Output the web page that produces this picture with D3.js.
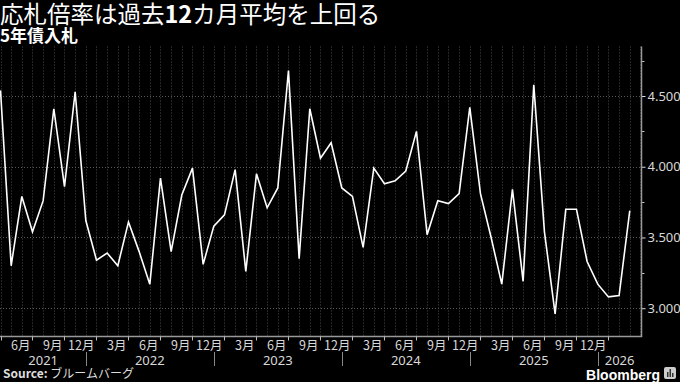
<!DOCTYPE html>
<html>
<head>
<meta charset="utf-8">
<script src="https://cdn.jsdelivr.net/npm/d3@7"></script>
<style>
  html, body { margin: 0; padding: 0; background: #000; }
  svg { display: block; }
  text { font-family: "Noto Sans CJK JP", "Noto Sans", sans-serif; }
</style>
</head>
<body>
<svg id="chart" width="680" height="382"></svg>
<script>
// 5-year JGB auction bid-to-cover ratio, monthly
var values = [
  4.54, 3.30, 3.79, 3.54, 3.76, 4.41, 3.86, 4.53, 3.62, 3.34,
  3.39, 3.30, 3.61, 3.40, 3.17, 3.92, 3.40, 3.80, 3.99, 3.31,
  3.58, 3.66, 3.98, 3.26, 3.95, 3.71, 3.85, 4.68, 3.35, 4.41,
  4.06, 4.17, 3.85, 3.79, 3.43, 3.99, 3.88, 3.90, 3.97, 4.25,
  3.52, 3.76, 3.74, 3.81, 4.42, 3.81, 3.50, 3.17, 3.84, 3.19,
  4.58, 3.54, 2.96, 3.70, 3.70, 3.33, 3.17, 3.08, 3.09, 3.69
];
var quarterLabels = ['6月', '9月', '12月', '3月'];
var years = ['2021', '2022', '2023', '2024', '2025', '2026'];
var yearBreaks = [8, 20, 32, 44, 56];
var majorTicks = [3.0, 3.5, 4.0, 4.5];
var minorTicks = [3.25, 3.75, 4.25, 4.75];

function draw() {
  var svg = d3.select('#chart');
  var plotLeft = 0.5, plotRight = 641.5, plotTop = 46.5, plotBottom = 336.5;

  var x = d3.scaleLinear().domain([0, 60.1]).range([plotLeft, plotRight]);
  var y = d3.scaleLinear().domain([2.8, 4.85]).range([plotBottom, plotTop]);

  function px(v) { return Math.round(v) + 0.5; }

  // vertical dotted grid, one per month
  svg.append('g').selectAll('line')
    .data(d3.range(0, 61))
    .enter().append('line')
    .attr('x1', function(d) { return px(x(d)); })
    .attr('x2', function(d) { return px(x(d)); })
    .attr('y1', plotTop).attr('y2', plotBottom)
    .attr('stroke', '#4a4a4a')
    .attr('stroke-dasharray', '1,2');

  // horizontal dotted grid
  svg.append('g').selectAll('line')
    .data(majorTicks)
    .enter().append('line')
    .attr('x1', 0).attr('x2', plotRight)
    .attr('y1', function(d) { return px(y(d)); })
    .attr('y2', function(d) { return px(y(d)); })
    .attr('stroke', '#5a5a5a')
    .attr('stroke-dasharray', '1,2');

  // right axis
  var yAxis = svg.append('g')
    .attr('transform', 'translate(' + plotRight + ',0)')
    .call(d3.axisRight(y).tickValues(majorTicks).tickSize(4).tickPadding(2)
      .tickFormat(d3.format('.3f')));
  yAxis.select('.domain').remove();
  yAxis.selectAll('line').attr('stroke', '#ddd');
  yAxis.selectAll('text')
    .attr('fill', '#d8d8d8')
    .style('font-family', '"Noto Sans", sans-serif')
    .style('font-size', '13px');

  svg.append('g').selectAll('line')
    .data(minorTicks)
    .enter().append('line')
    .attr('x1', plotRight).attr('x2', plotRight + 3)
    .attr('y1', function(d) { return px(y(d)); })
    .attr('y2', function(d) { return px(y(d)); })
    .attr('stroke', '#bbb');

  svg.append('line')
    .attr('x1', plotRight).attr('x2', plotRight)
    .attr('y1', plotTop).attr('y2', plotBottom)
    .attr('stroke', '#999').attr('stroke-width', 1.5);

  // bottom axis
  svg.append('line')
    .attr('x1', 0).attr('x2', plotRight + 0.75)
    .attr('y1', plotBottom).attr('y2', plotBottom)
    .attr('stroke', '#999').attr('stroke-width', 1.5);

  var qTicks = d3.range(0, 58, 3);
  svg.append('g').selectAll('line')
    .data(qTicks)
    .enter().append('line')
    .attr('x1', function(d) { return px(x(d)); })
    .attr('x2', function(d) { return px(x(d)); })
    .attr('y1', plotBottom).attr('y2', plotBottom + 4)
    .attr('stroke', '#bbb');

  svg.append('g').selectAll('text')
    .data(qTicks.filter(function(d) { return d > 0; }))
    .enter().append('text')
    .attr('x', function(d) { return x(d) - 2; })
    .attr('y', 350)
    .attr('text-anchor', 'end')
    .attr('fill', '#d8d8d8')
    .style('font-size', '12.5px')
    .text(function(d) { return quarterLabels[(d / 3 - 1) % 4]; });

  // year separators and labels
  svg.append('g').selectAll('line')
    .data(yearBreaks)
    .enter().append('line')
    .attr('x1', function(d) { return px(x(d)); })
    .attr('x2', function(d) { return px(x(d)); })
    .attr('y1', 352).attr('y2', 366)
    .attr('stroke', '#888');

  var spans = [0].concat(yearBreaks).concat([60.1]);
  svg.append('g').selectAll('text')
    .data(years)
    .enter().append('text')
    .attr('x', function(d, i) { return (x(spans[i]) + x(spans[i + 1])) / 2; })
    .attr('y', 365)
    .attr('text-anchor', 'middle')
    .attr('fill', '#d8d8d8')
    .style('font-family', '"Noto Sans", sans-serif')
    .style('font-size', '13px')
    .text(function(d) { return d; });

  // the line
  var line = d3.line()
    .x(function(d, i) { return x(i); })
    .y(function(d) { return y(d); });

  svg.append('path')
    .datum(values)
    .attr('d', line)
    .attr('fill', 'none')
    .attr('stroke', '#fff')
    .attr('stroke-width', 1.6)
    .attr('stroke-linejoin', 'miter');

  // titles
  var title = svg.append('text')
    .attr('x', 0).attr('y', 23)
    .attr('fill', '#fff')
    .style('font-size', '23.5px');
  title.append('tspan').text('応札倍率は過去');
  title.append('tspan').style('font-weight', 'bold').text('12');
  title.append('tspan').text('カ月平均を上回る');

  svg.append('text')
    .attr('x', 0).attr('y', 42)
    .attr('fill', '#fff')
    .style('font-size', '17px')
    .style('font-weight', 'bold')
    .text('5年債入札');

  // footer
  var src = svg.append('text')
    .attr('x', 3).attr('y', 378)
    .attr('fill', '#ddd')
    .style('font-size', '12px');
  src.append('tspan').style('font-weight', 'bold').text('Source: ');
  src.append('tspan').text('ブルームバーグ');

  svg.append('text')
    .attr('x', 660).attr('y', 380)
    .attr('text-anchor', 'end')
    .attr('fill', '#fff')
    .style('font-family', '"Liberation Sans", sans-serif')
    .style('font-size', '14px')
    .style('font-weight', 'bold')
    .text('Bloomberg');

  var logo = svg.append('g').attr('transform', 'translate(664,367)');
  logo.append('rect')
    .attr('width', 12).attr('height', 12).attr('rx', 2)
    .attr('fill', '#ccc');
  logo.selectAll('.bar')
    .data([5, 8, 4])
    .enter().append('rect')
    .attr('x', function(d, i) { return 3 + i * 2.5; })
    .attr('y', function(d) { return 10 - d; })
    .attr('width', 1.5)
    .attr('height', function(d) { return d; })
    .attr('fill', '#333');
}
draw();
</script>
</body>
</html>
